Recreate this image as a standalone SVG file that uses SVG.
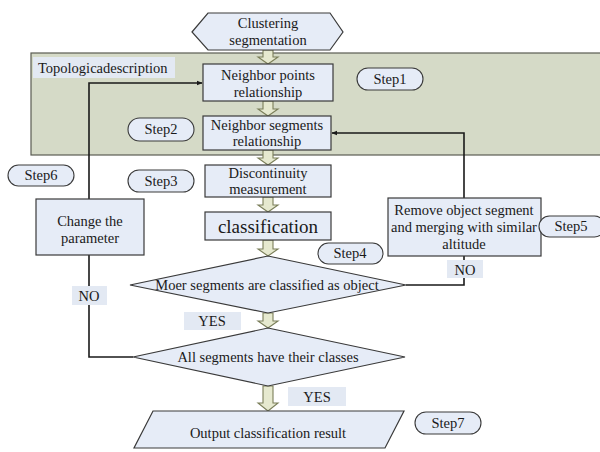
<svg xmlns="http://www.w3.org/2000/svg" width="600" height="452" viewBox="0 0 600 452">
<defs>
<style>
.box{fill:#e6ecf7;stroke:#3a3a3a;stroke-width:1.2}
text{font-family:'Liberation Serif','Times New Roman','DejaVu Serif',serif;font-size:14.5px;fill:#1a1a1a;text-anchor:middle}
.pill{fill:#e6ecf7;stroke:#3a3a3a;stroke-width:1.1}
.lbl{fill:#e3e9f3}
.ln{fill:none;stroke:#1a1a1a;stroke-width:1.6}
.blk{fill:#e6e9cf;stroke:#7b7f5a;stroke-width:1.1}
</style>
<marker id="ah" viewBox="0 0 10 10" refX="9" refY="5" markerWidth="6" markerHeight="6" orient="auto" markerUnits="userSpaceOnUse">
<path d="M0,1 L10,5 L0,9 Z" fill="#1a1a1a"/>
</marker>
</defs>
<rect width="600" height="452" fill="#ffffff"/>
<g font-family="Liberation Serif, Times New Roman, DejaVu Serif, serif">
<g id="band">
<rect x="31" y="53" width="575" height="102" fill="#d5dac7" stroke="#5a5c52" stroke-width="1.2"/>
<rect x="33" y="57" width="142" height="21" class="lbl"/>
<text x="38" y="73" style="text-anchor:start">Topologicadescription</text>
</g>
<g id="connectors">
<path class="ln" d="M133,357 L89,357 L89,83 L202,83" marker-end="url(#ah)"/>
<path class="ln" d="M406,285 L464,285 L464,255"/>
<path class="ln" d="M464,198 L464,133 L332,133" marker-end="url(#ah)"/>
<path class="blk" d="M263,50 L273,50 L273,57 L278,57 L268,64 L258,57 L263,57 Z"/>
<path class="blk" d="M263,101 L273,101 L273,109 L278,109 L268,116 L258,109 L263,109 Z"/>
<path class="blk" d="M263,150 L273,150 L273,158 L278,158 L268,165 L258,158 L263,158 Z"/>
<path class="blk" d="M263,197 L273,197 L273,205 L278,205 L268,212 L258,205 L263,205 Z"/>
<path class="blk" d="M263,240 L273,240 L273,249 L278,249 L268,256 L258,249 L263,249 Z"/>
<path class="blk" d="M263,313 L273,313 L273,321 L278,321 L268,328 L258,321 L263,321 Z"/>
<path class="blk" d="M263,386 L273,386 L273,403 L278,403 L268,411 L258,403 L263,403 Z"/>
</g>
<g id="clustering">
<polygon class="box" points="192,32 208,13 330,13 343,32 330,50 208,50"/>
<text x="268" y="28">Clustering</text>
<text x="268" y="45">segmentation</text>
</g>
<g id="neighborPoints">
<rect class="box" x="203" y="64" width="130" height="37"/>
<text x="268" y="80">Neighbor points</text>
<text x="268" y="97">relationship</text>
</g>
<g id="step1">
<rect class="pill" x="357" y="68" width="66" height="22" rx="11"/>
<text x="390" y="84">Step1</text>
</g>
<g id="neighborSegments">
<rect class="box" x="203" y="116" width="128" height="34"/>
<text x="267" y="130">Neighbor segments</text>
<text x="267" y="146">relationship</text>
</g>
<g id="step2">
<rect class="pill" x="128" y="118" width="66" height="23" rx="11.5"/>
<text x="161" y="134">Step2</text>
</g>
<g id="step6">
<rect class="pill" x="8" y="165" width="66" height="21" rx="10.5"/>
<text x="41" y="180">Step6</text>
</g>
<g id="step3">
<rect class="pill" x="128" y="170" width="66" height="22" rx="11"/>
<text x="161" y="186">Step3</text>
</g>
<g id="discontinuity">
<rect class="box" x="205" y="165" width="126" height="32"/>
<text x="268" y="178">Discontinuity</text>
<text x="268" y="194">measurement</text>
</g>
<g id="classification">
<rect class="box" x="205" y="212" width="126" height="28"/>
<text x="268" y="233" style="font-size:19px">classification</text>
</g>
<g id="changeParameter">
<rect class="box" x="36" y="199" width="108" height="56"/>
<text x="90" y="226">Change the</text>
<text x="90" y="243">parameter</text>
</g>
<g id="removeObject">
<rect class="box" x="388" y="198" width="153" height="58"/>
<text x="464" y="215">Remove object segment</text>
<text x="464" y="232">and merging with similar</text>
<text x="464" y="249">altitude</text>
</g>
<g id="step5">
<rect class="pill" x="539" y="216" width="66" height="21" rx="10.5"/>
<text x="571" y="231">Step5</text>
</g>
<g id="step4">
<rect class="pill" x="318" y="243" width="65" height="21" rx="10.5"/>
<text x="350" y="258">Step4</text>
</g>
<g id="noRight">
<rect class="lbl" x="447" y="260" width="36" height="18"/>
<text x="465" y="275">NO</text>
</g>
<g id="decision1">
<polygon class="box" points="268,256 406,285 268,313 130,285"/>
<text x="267" y="290">Moer segments are classified as object</text>
</g>
<g id="noLeft">
<rect class="lbl" x="72" y="286" width="35" height="19"/>
<text x="89" y="301">NO</text>
</g>
<g id="yes1">
<rect class="lbl" x="184" y="312" width="57" height="18"/>
<text x="212" y="326">YES</text>
</g>
<g id="decision2">
<polygon class="box" points="268,328 405,357 268,386 133,357"/>
<text x="268" y="362">All segments have their classes</text>
</g>
<g id="yes2">
<rect class="lbl" x="288" y="387" width="58" height="19"/>
<text x="317" y="402">YES</text>
</g>
<g id="output">
<polygon class="box" points="153,411 404,411 385,448 134,448"/>
<text x="268" y="438">Output classification result</text>
</g>
<g id="step7">
<rect class="pill" x="415" y="412" width="66" height="22" rx="11"/>
<text x="448" y="428">Step7</text>
</g>
</g>
</svg>
